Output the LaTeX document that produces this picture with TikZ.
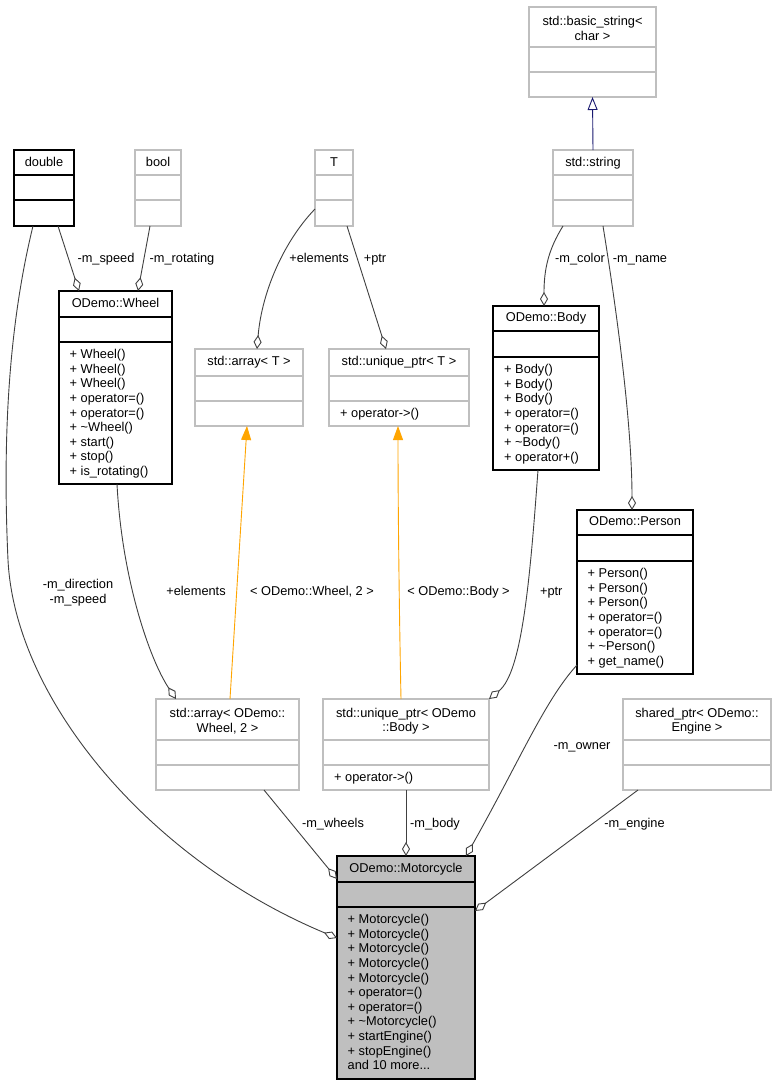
\documentclass[tikz,border=0pt]{standalone}
\usepackage{fontspec}
\setmainfont{Liberation Sans}
\usetikzlibrary{arrows.meta}
\definecolor{edgecol}{HTML}{404040}
\definecolor{lightb}{HTML}{BFBFBF}
\definecolor{motofill}{HTML}{BFBFBF}
\definecolor{inhblue}{HTML}{191970}
\definecolor{tmplorange}{HTML}{FFA500}
% #1 name, #2 style, #3 x1, #4 y1, #5 x2, #6 y2, #7 first divider, #8 second divider
\newcommand{\umlcls}[8]{%
  \node[#2, anchor=north west, inner sep=0pt, outer sep=0pt,
        minimum width={(#5-#3)*1pt}, minimum height={(#6-#4)*1pt}] (#1) at (#3,#4) {};
  \draw[#2, fill=none] (#3,#7) -- (#5,#7) (#3,#8) -- (#5,#8);
}
\tikzset{
  bk/.style={draw=black, line width=1.1pt},
  gy/.style={draw=lightb, line width=1.1pt},
  mc/.style={draw=black, line width=1.1pt, fill=motofill},
  ttl/.style={anchor=center, inner sep=0pt, text height=9.2pt, text depth=2.7pt},
  ttltwo/.style={anchor=center, inner sep=0pt, align=center},
  mth/.style={anchor=north west, inner sep=0pt, align=left},
  lbl/.style={anchor=center, inner sep=0pt, text height=9.2pt, text depth=2.7pt},
  lbltwo/.style={anchor=center, inner sep=0pt, align=center},
  assoc/.style={draw=edgecol, line width=0.9pt, -{Diamond[open, length=14pt, width=8pt]}},
  inh/.style={draw=inhblue, line width=0.9pt, -{Triangle[open, length=13pt, width=10pt]}},
  tmpl/.style={draw=tmplorange, line width=0.9pt, -{Triangle[length=14pt, width=10pt]}}
}
\begin{document}
\begin{tikzpicture}[x=1pt, y=-1pt, font=\fontsize{12.8}{14.6}\selectfont]
\fill[white] (0,0) rectangle (777,1085);
\useasboundingbox (0,0) rectangle (777,1085);

% ---- boxes ----
\umlcls{double}{bk}{14}{150}{74}{226}{175}{200}
\node[ttl] (doublet) at (44,163) {double};

\umlcls{bool}{gy}{135}{150}{181}{226}{175}{200}
\node[ttl] (boolt) at (158,163) {bool};

\umlcls{T}{gy}{315}{150}{353}{226}{175}{200}
\node[ttl] (Tt) at (334,163) {T};

\umlcls{basic}{gy}{529}{7}{656}{97}{47}{72}
\node[ttltwo] (basict) at (592.5,28.5) {std::basic\_string<\\char >};

\umlcls{string}{gy}{553}{150}{633}{226}{175}{200}
\node[ttl] (stringt) at (593,163) {std::string};

\umlcls{wheel}{bk}{59}{291}{172}{484}{317}{342}
\node[ttl] (wheelt) at (115.5,304.5) {ODemo::Wheel};
\node[mth] (wheelm) at (69.5,349.3) {+ Wheel()\\+ Wheel()\\+ Wheel()\\+ operator=()\\+ operator=()\\+ \textasciitilde Wheel()\\+ start()\\+ stop()\\+ is\_rotating()};

\umlcls{arrT}{gy}{195}{349}{303}{426}{376}{401}
\node[ttl] (arrTt) at (249,362.5) {std::array< T >};

\umlcls{upT}{gy}{329}{349}{469}{426}{376}{401}
\node[ttl] (upTt) at (399,362.5) {std::unique\_ptr< T >};
\node[mth] (upTm) at (340,408.3) {+ operator->()};

\umlcls{body}{bk}{493}{306}{599}{470}{331}{357}
\node[ttl] (bodyt) at (546,318.5) {ODemo::Body};
\node[mth] (bodym) at (504,364.3) {+ Body()\\+ Body()\\+ Body()\\+ operator=()\\+ operator=()\\+ \textasciitilde Body()\\+ operator+()};

\umlcls{person}{bk}{577}{510}{693}{674}{535}{561}
\node[ttl] (persont) at (635,522.5) {ODemo::Person};
\node[mth] (personm) at (587.5,568.3) {+ Person()\\+ Person()\\+ Person()\\+ operator=()\\+ operator=()\\+ \textasciitilde Person()\\+ get\_name()};

\umlcls{arrW}{gy}{156}{699}{299}{790}{740}{765}
\node[ttltwo] (arrWt) at (227.5,721) {std::array< ODemo::\\Wheel, 2 >};

\umlcls{upB}{gy}{323}{699}{489}{790}{740}{765}
\node[ttltwo] (upBt) at (406,721) {std::unique\_ptr< ODemo\\::Body >};
\node[mth] (upBm) at (334,772.3) {+ operator->()};

\umlcls{shared}{gy}{623}{699}{771}{790}{740}{765}
\node[ttltwo] (sharedt) at (697,721) {shared\_ptr< ODemo::\\Engine >};

\umlcls{moto}{mc}{337}{856}{475}{1079}{882}{907}
\node[ttl] (motot) at (406,869) {ODemo::Motorcycle};
\node[mth] (motom) at (347.5,914.3) {+ Motorcycle()\\+ Motorcycle()\\+ Motorcycle()\\+ Motorcycle()\\+ Motorcycle()\\+ operator=()\\+ operator=()\\+ \textasciitilde Motorcycle()\\+ startEngine()\\+ stopEngine()\\and 10 more...};

% ---- connectors ----
\draw[inh] (string.north) -- (basic.south);

\draw[assoc] ([xshift=14pt]double.south) -- ([xshift=-36.5pt]wheel.north);
\draw[assoc] ([xshift=-8pt]bool.south) -- ([xshift=22.5pt]wheel.north);
\draw[assoc] ([yshift=-21pt]T.west) .. controls (285,240) and (262,290) .. ([xshift=8pt]arrT.north);
\draw[assoc] ([xshift=13pt]T.south) -- ([xshift=-13pt]upT.north);
\draw[assoc] ([xshift=-30pt]string.south) .. controls (548,250) and (544,270) .. ([xshift=-2pt]body.north);
\draw[assoc] ([xshift=10pt]string.south) .. controls (615,300) and (632,420) .. ([xshift=-3pt]person.north);
\draw[assoc] ([xshift=-11pt]double.south) .. controls (10,320) and (2,430) .. (8,560)
   .. controls (15,700) and (150,860) .. ([yshift=29.5pt]moto.west);
\draw[assoc] ([xshift=1.5pt]wheel.south) .. controls (122,580) and (150,660) .. ([xshift=-51.5pt]arrW.north);
\draw[tmpl] ([xshift=2.5pt]arrW.north) -- ([xshift=-2pt]arrT.south);
\draw[tmpl] ([xshift=-5pt]upB.north) .. controls (399,600) and (398,500) .. ([xshift=-1pt]upT.south);
\draw[assoc] ([xshift=-8pt]body.south) .. controls (530,580) and (522,672) .. (upB.north east);
\draw[assoc] ([xshift=36.5pt]arrW.south) -- ([yshift=88.5pt]moto.west);
\draw[assoc] (upB.south) -- (moto.north);
\draw[assoc] ([yshift=-73pt]person.west) .. controls (545,700) and (520,760) .. ([xshift=60pt]moto.north);
\draw[assoc] ([xshift=-59pt]shared.south) -- ([yshift=56.5pt]moto.east);

% ---- connector labels ----
\node[lbl] (l1) at (106,259) {-m\_speed};
\node[lbl] (l2) at (182,259) {-m\_rotating};
\node[lbl] (l3) at (319,259) {+elements};
\node[lbl] (l4) at (375,259) {+ptr};
\node[lbl] (l5) at (580,259) {-m\_color};
\node[lbl] (l6) at (640,259) {-m\_name};
\node[lbltwo] (l7) at (78,592.6) {-m\_direction\\-m\_speed};
\node[lbl] (l8) at (196,592.4) {+elements};
\node[lbl] (l9) at (312,592.4) {< ODemo::Wheel, 2 >};
\node[lbl] (l10) at (458.5,592.4) {< ODemo::Body >};
\node[lbl] (l11) at (551.3,592.4) {+ptr};
\node[lbl] (l12) at (333,824) {-m\_wheels};
\node[lbl] (l13) at (435,824) {-m\_body};
\node[lbl] (l14) at (582,746.4) {-m\_owner};
\node[lbl] (l15) at (634.5,824) {-m\_engine};
\end{tikzpicture}
\end{document}
